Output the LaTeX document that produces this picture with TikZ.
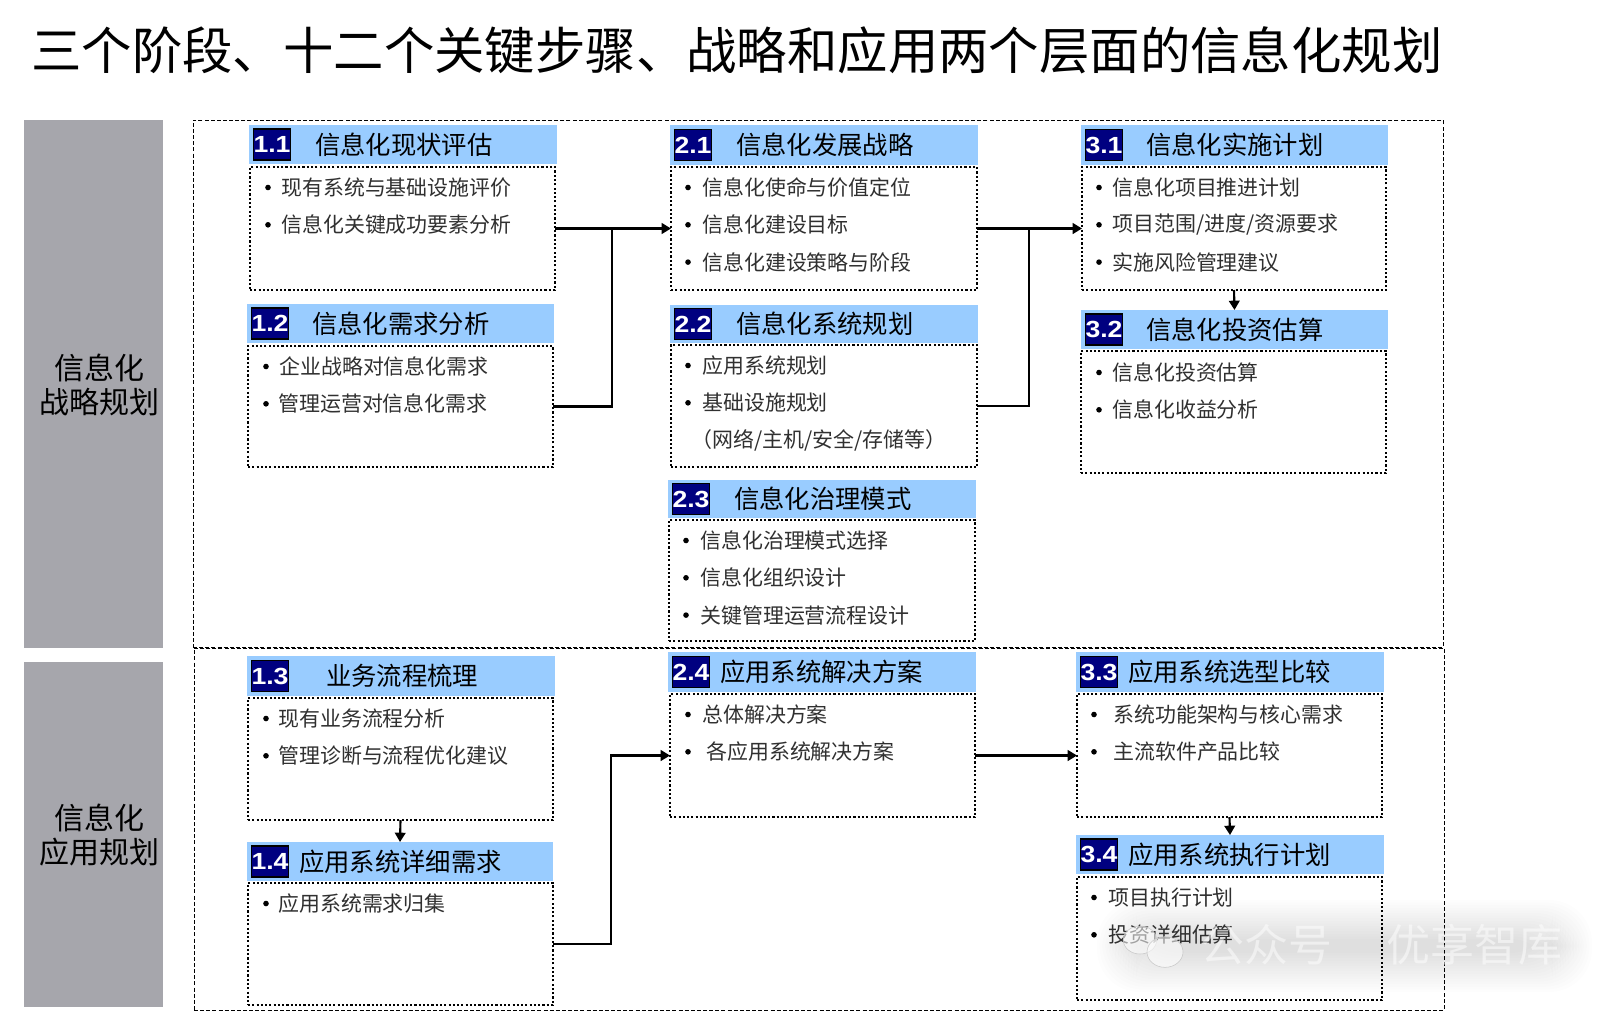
\documentclass[tikz,border=0pt]{standalone}
\usepackage{fontspec}
\setmainfont{Noto Sans CJK SC}
\newfontfamily\badgefont[FakeStretch=1.14]{Liberation Sans}
\usetikzlibrary{fit,arrows.meta,shapes.geometric}
\definecolor{headblue}{HTML}{99CCFF}
\definecolor{badgenavy}{HTML}{000080}
\definecolor{sidegray}{HTML}{A6A6AC}
\definecolor{itemtext}{HTML}{303030}
\tikzset{
  x=0.75pt,y=-0.75pt,
  headbox/.style={fill=headblue,inner sep=0pt,outer sep=0pt},
  badgebox/.style={fill=badgenavy,draw=black,line width=1.1pt,inner sep=0pt,outer sep=0pt,minimum width=27.5pt,minimum height=23pt,text=white,font=\badgefont\bfseries\fontsize{17.5pt}{18pt}\selectfont},
  headtext/.style={anchor=west,inner sep=0pt,text=black,font=\fontsize{19pt}{20pt}\selectfont},
  bodybox/.style={draw=black,line width=1.4pt,dash pattern=on 1.6pt off 1.6pt,inner sep=0pt,outer sep=0pt},
  itemlabel/.style={anchor=west,inner sep=0pt,text=itemtext,font=\fontsize{15.7pt}{18pt}\selectfont},
  bulletdot/.style={circle,fill=black,inner sep=0pt,minimum size=4.2pt},
  sidebox/.style={fill=sidegray,inner sep=0pt,outer sep=0pt},
  sidetext/.style={align=center,text=black,inner sep=0pt,font=\fontsize{22.5pt}{25.6pt}\selectfont},
  areabox/.style={draw=black,line width=0.7pt,dash pattern=on 3pt off 1.6pt,inner sep=0pt,outer sep=0pt},
  flowline/.style={draw=black,line width=1.6pt},
  flowarrow/.style={flowline,-{Triangle[length=7pt,width=8pt]}},
  wmtext/.style={inner sep=0pt,text=white,opacity=0.5,font=\fontsize{33pt}{34pt}\selectfont},
  wmbubble/.style={ellipse,fill=white,draw=black!22,line width=0.4pt,fill opacity=0.55,inner sep=0pt},
  titletext/.style={anchor=west,inner sep=0pt,text=black,font=\fontsize{37.8pt}{40pt}\selectfont},
}
\newcommand{\headcard}[6]{%
  \node[headbox,fit={(#5)(#6)}] (h#1) {};
  \node[badgebox,anchor=west] (n#1) at ([xshift=3.4pt]h#1.west) {#2};
  \node[headtext] (t#1) at (#4,{0}|-h#1.center) {#3};
}
\newcommand{\bodycard}[3]{%
  \node[bodybox,fit={(#2)(#3)}] (b#1) {};
}
\newcommand{\bul}[6]{%
  \pgfmathsetmacro\rowy{#5+20.5+37.3*(#2-1)}%
  \node[bulletdot] (d#1#2) at (#3,\rowy) {};
  \node[itemlabel] (i#1#2) at (#4,\rowy) {#6};
}
\begin{document}
\begin{tikzpicture}
\path[fill=white] (0,0) rectangle (1616,1011);
\useasboundingbox (0,0) rectangle (1616,1011);

% watermark shadow
\foreach \k in {0,...,15}{
  \fill[black,opacity=0.008,rounded corners=32pt]
    ({1097+2.6*\k},{900+2.6*\k}) rectangle ({1592-2.6*\k},{992-2.6*\k});
}

\node[titletext] (title) at (31,50) {三个阶段、十二个关键步骤、战略和应用两个层面的信息化规划};

\node[sidebox,fit={(24,120)(163,648)}] (s1) {};
\node[sidebox,fit={(24,662)(163,1007)}] (s2) {};
\node[sidetext] (s1t) at (99,385) {信息化\\战略规划};
\node[sidetext] (s2t) at (99,835) {信息化\\应用规划};

\node[areabox,fit={(193,120)(1443,647)}] (a1) {};
\node[areabox,fit={(194,648)(1444,1010)}] (a2) {};

% 1.1
\headcard{11}{1.1}{信息化现状评估}{315}{249,125}{557,164}
\bodycard{11}{250,167}{555,290}
\bul{11}{1}{268}{281}{167}{现有系统与基础设施评价}
\bul{11}{2}{268}{281}{167}{信息化关键成功要素分析}
% 1.2
\headcard{12}{1.2}{信息化需求分析}{312}{247,304}{554,343}
\bodycard{12}{248,346}{553,467}
\bul{12}{1}{266}{279}{346}{企业战略对信息化需求}
\bul{12}{2}{266}{278}{346}{管理运营对信息化需求}
% 2.1
\headcard{21}{2.1}{信息化发展战略}{736}{670,125}{978,165}
\bodycard{21}{671,167}{977,290}
\bul{21}{1}{688}{702}{167}{信息化使命与价值定位}
\bul{21}{2}{688}{702}{167}{信息化建设目标}
\bul{21}{3}{688}{702}{167}{信息化建设策略与阶段}
% 2.2
\headcard{22}{2.2}{信息化系统规划}{736}{670,305}{978,343}
\bodycard{22}{671,345}{977,467}
\bul{22}{1}{688}{702}{345}{应用系统规划}
\bul{22}{2}{688}{702}{345}{基础设施规划}
\node[itemlabel] (i223) at (691,440.6) {（网络/主机/安全/存储等）};
% 2.3
\headcard{23}{2.3}{信息化治理模式}{734}{668,480}{976,518}
\bodycard{23}{669,520}{975,641}
\bul{23}{1}{686}{700}{520}{信息化治理模式选择}
\bul{23}{2}{686}{700}{520}{信息化组织设计}
\bul{23}{3}{686}{700}{520}{关键管理运营流程设计}
% 3.1
\headcard{31}{3.1}{信息化实施计划}{1146}{1081,125}{1388,165}
\bodycard{31}{1082,167}{1386,290}
\bul{31}{1}{1099}{1112}{167}{信息化项目推进计划}
\bul{31}{2}{1099}{1112}{167}{项目范围/进度/资源要求}
\bul{31}{3}{1099}{1112}{167}{实施风险管理建议}
% 3.2
\headcard{32}{3.2}{信息化投资估算}{1146}{1081,310}{1388,349}
\bodycard{32}{1081,351}{1386,473}
\bul{32}{1}{1099}{1112}{352}{信息化投资估算}
\bul{32}{2}{1099}{1112}{352}{信息化收益分析}
% 1.3
\headcard{13}{1.3}{业务流程梳理}{326}{247,656}{555,696}
\bodycard{13}{248,698}{553,820}
\bul{13}{1}{266}{278}{698}{现有业务流程分析}
\bul{13}{2}{266}{278}{698}{管理诊断与流程优化建议}
% 1.4
\headcard{14}{1.4}{应用系统详细需求}{299}{247,842}{553,881}
\bodycard{14}{248,883}{553,1005}
\bul{14}{1}{266}{278}{883}{应用系统需求归集}
% 2.4
\headcard{24}{2.4}{应用系统解决方案}{720}{668,652}{976,692}
\bodycard{24}{670,694}{975,817}
\bul{24}{1}{688}{702}{694}{总体解决方案}
\bul{24}{2}{688}{706}{694}{各应用系统解决方案}
% 3.3
\headcard{33}{3.3}{应用系统选型比较}{1128}{1076,652}{1384,692}
\bodycard{33}{1077,694}{1382,817}
\bul{33}{1}{1094}{1113}{694}{系统功能架构与核心需求}
\bul{33}{2}{1094}{1113}{694}{主流软件产品比较}
% 3.4
\headcard{34}{3.4}{应用系统执行计划}{1128}{1076,835}{1384,874}
\bodycard{34}{1077,877}{1382,1000}
\bul{34}{1}{1094}{1108}{877}{项目执行计划}
\bul{34}{2}{1094}{1108}{877}{投资详细估算}

% connectors
\coordinate (j1) at (612,228.5);
\coordinate (j2) at (1029,228.5);
\coordinate (j3) at (611,755.5);
\draw[flowarrow] (b11.east) -- (b21.west);
\draw[flowline] (b12.east) -| (j1);
\draw[flowarrow] (b21.east) -- (b31.west);
\draw[flowline] (b22.east) -| (j2);
\draw[flowarrow] (b31.south) -- (h32.north);
\draw[flowarrow] (b13.south) -- (h14.north);
\draw[flowarrow] (b14.east) -| (j3) -- (b24.west);
\draw[flowarrow] (b24.east) -- (b33.west);
\draw[flowarrow] (b33.south) -- (h34.north);

% watermark
\node[wmbubble,minimum width=25pt,minimum height=21pt] (wm1) at (1140,940) {};
\node[wmbubble,minimum width=27pt,minimum height=23pt] (wm2) at (1165,952) {};
\node[wmtext,anchor=west] (wm3) at (1200,945) {公众号};
\node[wmtext,anchor=west] (wm4) at (1386,945) {优享智库};
\end{tikzpicture}
\end{document}
